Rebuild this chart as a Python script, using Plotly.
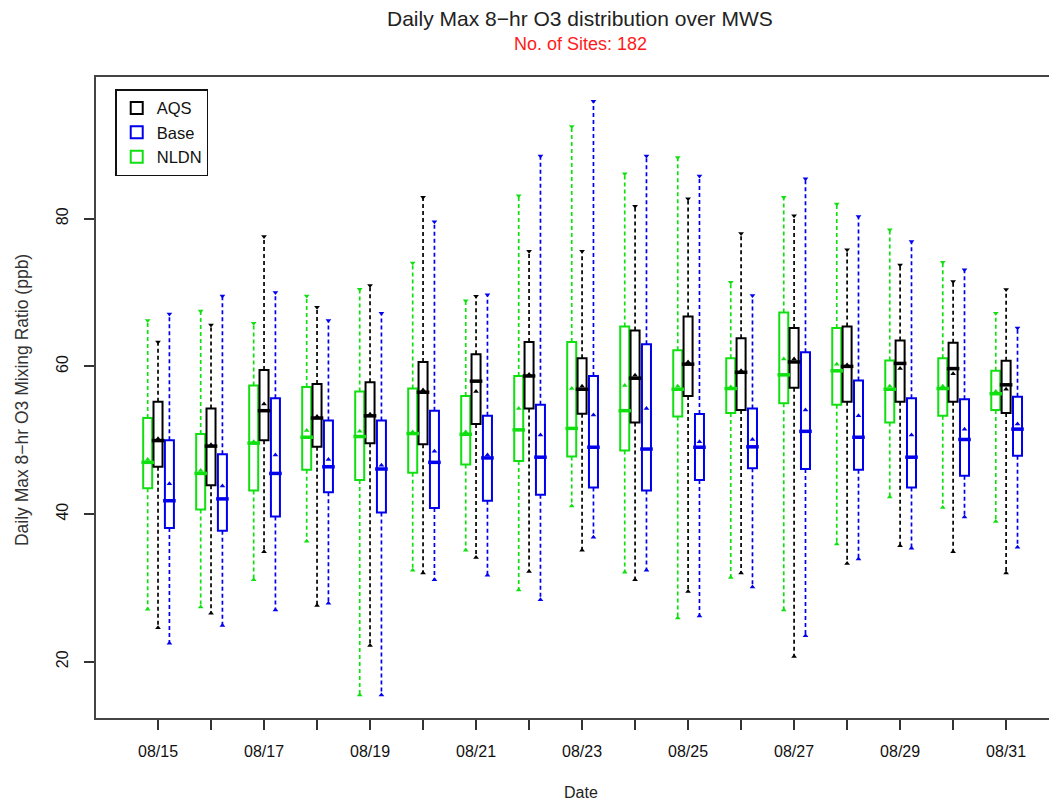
import plotly.graph_objects as go

# ---------------- data (ppb) ----------------
days = list(range(15, 32))
date_labels = ["08/15", "08/16", "08/17", "08/18", "08/19", "08/20", "08/21", "08/22", "08/23",
               "08/24", "08/25", "08/26", "08/27", "08/28", "08/29", "08/30", "08/31"]

nldn_upper = [66.2, 67.5, 65.85, 69.55, 70.45, 74.0, 68.9, 83.1, 92.5, 86.1, 88.3, 71.4, 82.9, 82.0, 78.5, 74.1, 67.2]
nldn_q3 = [53.0, 50.85, 57.4, 57.2, 56.6, 57.0, 56.0, 58.7, 63.3, 65.4, 62.2, 61.1, 67.3, 65.2, 60.8, 61.1, 59.4]
nldn_median = [47.0, 45.5, 49.6, 50.4, 50.5, 50.9, 50.8, 51.4, 51.6, 54.0, 56.9, 57.0, 58.85, 59.4, 56.9, 57.0, 56.3]
nldn_mean = [47.4, 45.9, 49.8, 51.3, 51.2, 51.1, 51.1, 54.3, 57.0, 57.4, 57.3, 57.2, 61.0, 60.3, 57.3, 57.3, 56.6]
nldn_q1 = [43.5, 40.6, 43.2, 46.0, 44.6, 45.6, 46.7, 47.2, 47.8, 48.6, 53.2, 53.7, 55.0, 54.8, 52.4, 53.3, 54.1]
nldn_lower = [27.1, 27.4, 31.1, 36.3, 15.5, 32.4, 35.1, 29.7, 41.1, 32.1, 25.9, 31.4, 27.0, 35.95, 42.3, 40.9, 39.0]

aqs_upper = [63.3, 65.6, 77.6, 68.0, 70.95, 82.9, 69.5, 75.6, 75.6, 81.7, 82.7, 78.0, 80.4, 75.8, 73.75, 71.5, 70.4]
aqs_q3 = [55.2, 54.3, 59.5, 57.6, 57.85, 60.6, 61.65, 63.3, 61.1, 64.85, 66.75, 63.8, 65.2, 65.4, 63.5, 63.2, 60.75]
aqs_median = [49.95, 49.2, 54.0, 53.0, 53.3, 56.5, 58.0, 58.7, 56.9, 58.4, 60.3, 59.2, 60.6, 60.0, 60.4, 59.7, 57.5]
aqs_mean = [50.2, 49.4, 54.9, 53.2, 53.5, 56.8, 56.6, 58.9, 57.3, 58.8, 60.6, 59.4, 61.0, 60.2, 59.7, 59.0, 56.9]
aqs_q1 = [46.4, 43.9, 50.0, 49.1, 49.6, 49.45, 52.2, 54.3, 53.6, 52.4, 56.0, 54.1, 57.1, 55.2, 55.2, 55.2, 53.7]
aqs_lower = [24.6, 26.55, 34.9, 27.6, 22.2, 32.0, 34.1, 32.2, 35.1, 31.1, 29.5, 32.0, 20.7, 33.3, 35.7, 34.9, 32.0]

base_upper = [67.1, 69.55, 70.0, 66.2, 67.2, 79.6, 69.7, 88.5, 95.9, 88.5, 85.8, 69.6, 85.4, 80.3, 76.9, 73.1, 65.2]
base_q3 = [50.0, 48.1, 55.7, 52.66, 52.66, 54.0, 53.3, 54.8, 58.7, 63.0, 53.56, 54.3, 61.9, 58.08, 55.7, 55.55, 55.9]
base_median = [41.8, 42.05, 45.5, 46.4, 46.1, 47.0, 47.6, 47.7, 49.05, 48.8, 49.05, 49.1, 51.2, 50.4, 47.7, 50.1, 51.5]
base_mean = [44.1, 43.8, 48.0, 47.4, 46.6, 48.5, 48.0, 50.7, 53.4, 54.3, 49.8, 50.1, 54.1, 53.3, 50.7, 51.5, 52.2]
base_q1 = [38.1, 37.75, 39.65, 42.95, 40.2, 40.8, 41.8, 42.6, 43.6, 43.2, 44.6, 46.2, 46.1, 46.0, 43.6, 45.2, 47.9]
base_lower = [22.5, 24.9, 27.0, 27.9, 15.5, 31.1, 31.7, 28.4, 36.85, 32.4, 26.2, 30.1, 23.5, 33.9, 35.35, 39.6, 35.5]

# ---------------- styling ----------------
series = [
    dict(name="NLDN", color="#10e010", offset=-0.195, rank=3,
         upper=nldn_upper, q3=nldn_q3, median=nldn_median, mean=nldn_mean, q1=nldn_q1, lower=nldn_lower),
    dict(name="AQS", color="#000000", offset=0.0, rank=1,
         upper=aqs_upper, q3=aqs_q3, median=aqs_median, mean=aqs_mean, q1=aqs_q1, lower=aqs_lower),
    dict(name="Base", color="#0000ee", offset=0.215, rank=2,
         upper=base_upper, q3=base_q3, median=base_median, mean=base_mean, q1=base_q1, lower=base_lower),
]
BOX_W = 0.17
FONT = "Liberation Sans, Arial, sans-serif"

fig = go.Figure()
for s in series:
    xs = [d + s["offset"] for d in days]
    # dashed whiskers
    wx, wy = [], []
    for x, up, q3, q1, lo in zip(xs, s["upper"], s["q3"], s["q1"], s["lower"]):
        wx += [x, x, None, x, x, None]
        wy += [q3, up, None, q1, lo, None]
    fig.add_trace(go.Scatter(x=wx, y=wy, mode="lines", showlegend=False, hoverinfo="skip",
                             line=dict(color=s["color"], width=1.7, dash="4px,3px")))
    # whisker caps
    fig.add_trace(go.Scatter(x=xs, y=s["upper"], mode="markers", showlegend=False, hoverinfo="skip",
                             marker=dict(symbol="triangle-down", size=5, color=s["color"])))
    fig.add_trace(go.Scatter(x=xs, y=s["lower"], mode="markers", showlegend=False, hoverinfo="skip",
                             marker=dict(symbol="triangle-up", size=5, color=s["color"])))
    # boxes
    fig.add_trace(go.Box(x=xs, q1=s["q1"], median=s["median"], q3=s["q3"],
                         lowerfence=s["q1"], upperfence=s["q3"], width=BOX_W,
                         name=s["name"], legendrank=s["rank"], boxpoints=False,
                         fillcolor="white", line=dict(color=s["color"], width=2),
                         whiskerwidth=0))
    # thicker median bar
    fig.add_trace(go.Scatter(x=xs, y=s["median"], mode="markers", showlegend=False, hoverinfo="skip",
                             marker=dict(symbol="line-ew", size=9, line=dict(color=s["color"], width=3.5))))
    # mean marker
    fig.add_trace(go.Scatter(x=xs, y=s["mean"], mode="markers", showlegend=False, hoverinfo="skip",
                             marker=dict(symbol="triangle-up", size=5, color=s["color"])))

axis_font = dict(family=FONT, size=16, color="#111111")

# the page adds an 8px body margin, so the figure is 8px smaller than the window
fig.update_layout(
    width=1049, height=795,
    margin=dict(l=88, r=0, t=69, b=85),
    paper_bgcolor="white", plot_bgcolor="white",
    boxmode="overlay",
    showlegend=True,
    legend=dict(x=0.02, y=0.981, xanchor="left", yanchor="top",
                bgcolor="white", bordercolor="#111111", borderwidth=1.5,
                font=dict(family=FONT, size=16.5, color="#111111"),
                tracegroupgap=0),
    xaxis=dict(range=[13.83, 31.96], tickmode="array", tickvals=days,
               ticktext=[lab if i % 2 == 0 else "" for i, lab in enumerate(date_labels)],
               ticks="outside", ticklen=10, tickwidth=1.5, tickcolor="#333333",
               showline=True, linecolor="#444444", linewidth=2, mirror=True,
               showgrid=False, zeroline=False, tickfont=axis_font, ticklabelstandoff=8),
    yaxis=dict(range=[12.37, 99.2], tickmode="array", tickvals=[20, 40, 60, 80],
               tickangle=-90, ticks="outside", ticklen=10, tickwidth=1.5, tickcolor="#333333",
               showline=True, linecolor="#444444", linewidth=2,
               showgrid=False, zeroline=False, tickfont=axis_font, ticklabelstandoff=10),
    annotations=[
        dict(text="Daily Max 8\u2212hr O3 distribution over MWS", xref="paper", yref="paper",
             x=0.504, y=1.092, xanchor="center", yanchor="middle", showarrow=False,
             font=dict(family=FONT, size=21, color="#222222")),
        dict(text="No. of Sites: 182", xref="paper", yref="paper",
             x=0.504, y=1.0515, xanchor="center", yanchor="middle", showarrow=False,
             font=dict(family=FONT, size=18, color="#ff1a1a")),
        dict(text="Date", xref="paper", yref="paper",
             x=0.505, y=-0.117, xanchor="center", yanchor="middle", showarrow=False,
             font=dict(family=FONT, size=16, color="#222222")),
        dict(text="Daily Max 8\u2212hr O3 Mixing Ratio (ppb)", xref="paper", yref="paper",
             x=-0.077, y=0.496, xanchor="center", yanchor="middle", showarrow=False, textangle=-90,
             font=dict(family=FONT, size=17.5, color="#333333")),
    ],
)

fig.write_html("out.html")
